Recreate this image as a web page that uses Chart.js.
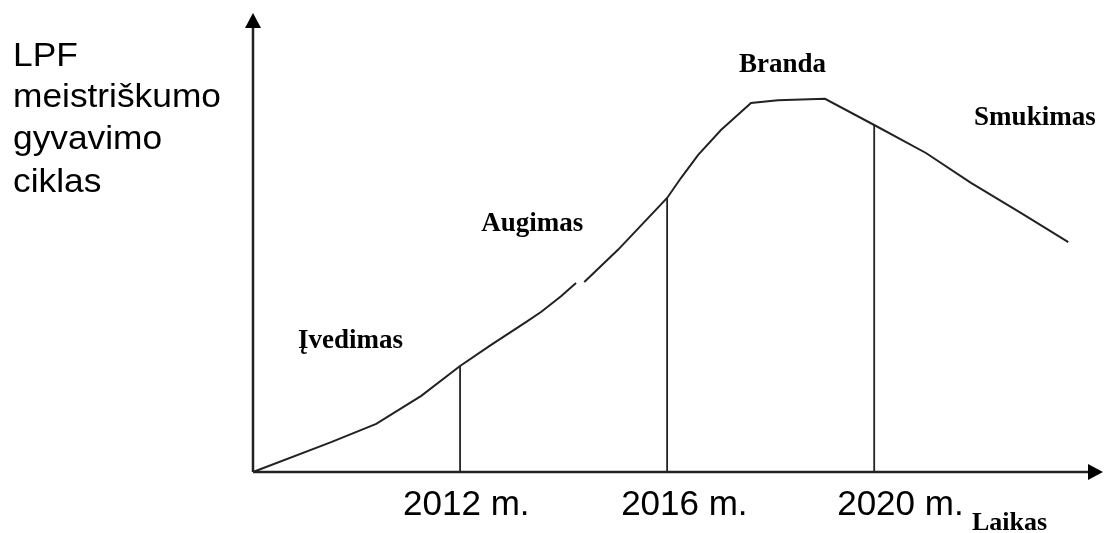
<!DOCTYPE html>
<html>
<head>
<meta charset="utf-8">
<script src="https://cdn.jsdelivr.net/npm/chart.js@4"></script>
<style>
  html, body { margin: 0; padding: 0; background: #fff; }
  #wrap { width: 1104px; height: 533px; }
</style>
</head>
<body>
<div id="wrap"><canvas id="chartContainer"></canvas></div>
<script>
// life cycle curve (time in years, level in relative units 0..100)
const curveT = [2008, 2009.51, 2010.38, 2011.25, 2012, 2012.6, 2013.28, 2013.57, 2013.95, 2014.24, 2014.32,
                2014.4, 2015.05, 2016, 2016.27, 2016.6, 2017.04, 2017.62, 2018.14, 2019.05, 2020,
                2021.0, 2021.87, 2022.84, 2023.75];
const curveV = [0, 6.5, 10.5, 16.6, 23.1, 27.7, 32.7, 34.9, 38.3, 41.2, null,
                41.4, 48.4, 59.7, 64.1, 69.1, 74.5, 80.4, 81.0, 81.3, 75.6,
                69.5, 63.0, 56.4, 50.1];
const years = [2012, 2016, 2020];
const yearLabels = ['2012 m.', '2016 m.', '2020 m.'];
const markerV = [23.1, 59.7, 75.6];
const stages = ['Įvedimas', 'Augimas', 'Branda', 'Smukimas'];
const titleLines = ['LPF', 'meistriškumo', 'gyvavimo', 'ciklas'];
const axisName = 'Laikas';

const ink = '#222';

const curveData = curveT.map((t, i) => ({ x: t, y: curveV[i] }));
const markerSets = years.map((yr, i) => ({
    data: [{ x: yr, y: 0 }, { x: yr, y: markerV[i] }],
    showLine: true,
    borderColor: ink,
    borderWidth: 1.8,
    pointRadius: 0,
    clip: false
}));

const decor = {
    id: 'decor',
    beforeDatasetsDraw(chart) {
        const ctx = chart.ctx;
        const a = chart.chartArea;
        ctx.save();
        ctx.strokeStyle = ink;
        ctx.fillStyle = '#000';
        ctx.lineWidth = 2.5;
        // axes
        ctx.beginPath();
        ctx.moveTo(a.left, a.bottom);
        ctx.lineTo(a.left, a.top + 12);
        ctx.moveTo(a.left, a.bottom);
        ctx.lineTo(a.right - 12, a.bottom);
        ctx.stroke();
        // arrow heads
        ctx.beginPath();
        ctx.moveTo(a.left, a.top);
        ctx.lineTo(a.left - 8, a.top + 15);
        ctx.lineTo(a.left + 8, a.top + 15);
        ctx.closePath();
        ctx.fill();
        ctx.beginPath();
        ctx.moveTo(a.right, a.bottom);
        ctx.lineTo(a.right - 15, a.bottom - 8);
        ctx.lineTo(a.right - 15, a.bottom + 8);
        ctx.closePath();
        ctx.fill();
        ctx.restore();
    },
    afterDatasetsDraw(chart) {
        const ctx = chart.ctx;
        const xs = chart.scales.x, ys = chart.scales.y;
        ctx.save();
        ctx.fillStyle = '#000';
        ctx.textBaseline = 'alphabetic';
        ctx.textAlign = 'left';
        // title (source text is slightly stretched sideways)
        ctx.font = '33px "Liberation Sans", Arial, sans-serif';
        const titleBase = [66, 107, 149, 192];
        ctx.save();
        ctx.scale(1.07, 1);
        titleLines.forEach((s, i) => ctx.fillText(s, 13 / 1.07, titleBase[i]));
        ctx.restore();
        // year labels
        ctx.font = '35px "Liberation Sans", Arial, sans-serif';
        const shift = [-57, -46, -37];
        years.forEach((yr, i) => ctx.fillText(yearLabels[i], xs.getPixelForValue(yr) + shift[i], 515));
        // stage labels
        ctx.font = 'bold 27px "Liberation Serif", "Times New Roman", serif';
        const stagePos = [[2008.87, 27], [2012.41, 52.5], [2017.39, 87.2], [2021.93, 75.5]];
        stages.forEach((s, i) => ctx.fillText(s, xs.getPixelForValue(stagePos[i][0]), ys.getPixelForValue(stagePos[i][1])));
        ctx.font = 'bold 26px "Liberation Serif", "Times New Roman", serif';
        ctx.fillText(axisName, 972, 530);
        ctx.restore();
    }
};

new Chart(document.getElementById('chartContainer').getContext('2d'), {
    type: 'scatter',
    data: {
        datasets: [{
            data: curveData,
            showLine: true,
            spanGaps: false,
            borderColor: ink,
            borderWidth: 2,
            pointRadius: 0,
            tension: 0,
            clip: false
        }].concat(markerSets)
    },
    options: {
        responsive: true,
        maintainAspectRatio: false,
        animation: false,
        layout: { padding: { left: 253, right: 1, top: 13, bottom: 61 } },
        plugins: { legend: { display: false }, tooltip: { enabled: false } },
        scales: {
            x: { type: 'linear', min: 2008, max: 2024.42, display: false },
            y: { type: 'linear', min: 0, max: 100, display: false }
        }
    },
    plugins: [decor]
});
</script>
</body>
</html>
